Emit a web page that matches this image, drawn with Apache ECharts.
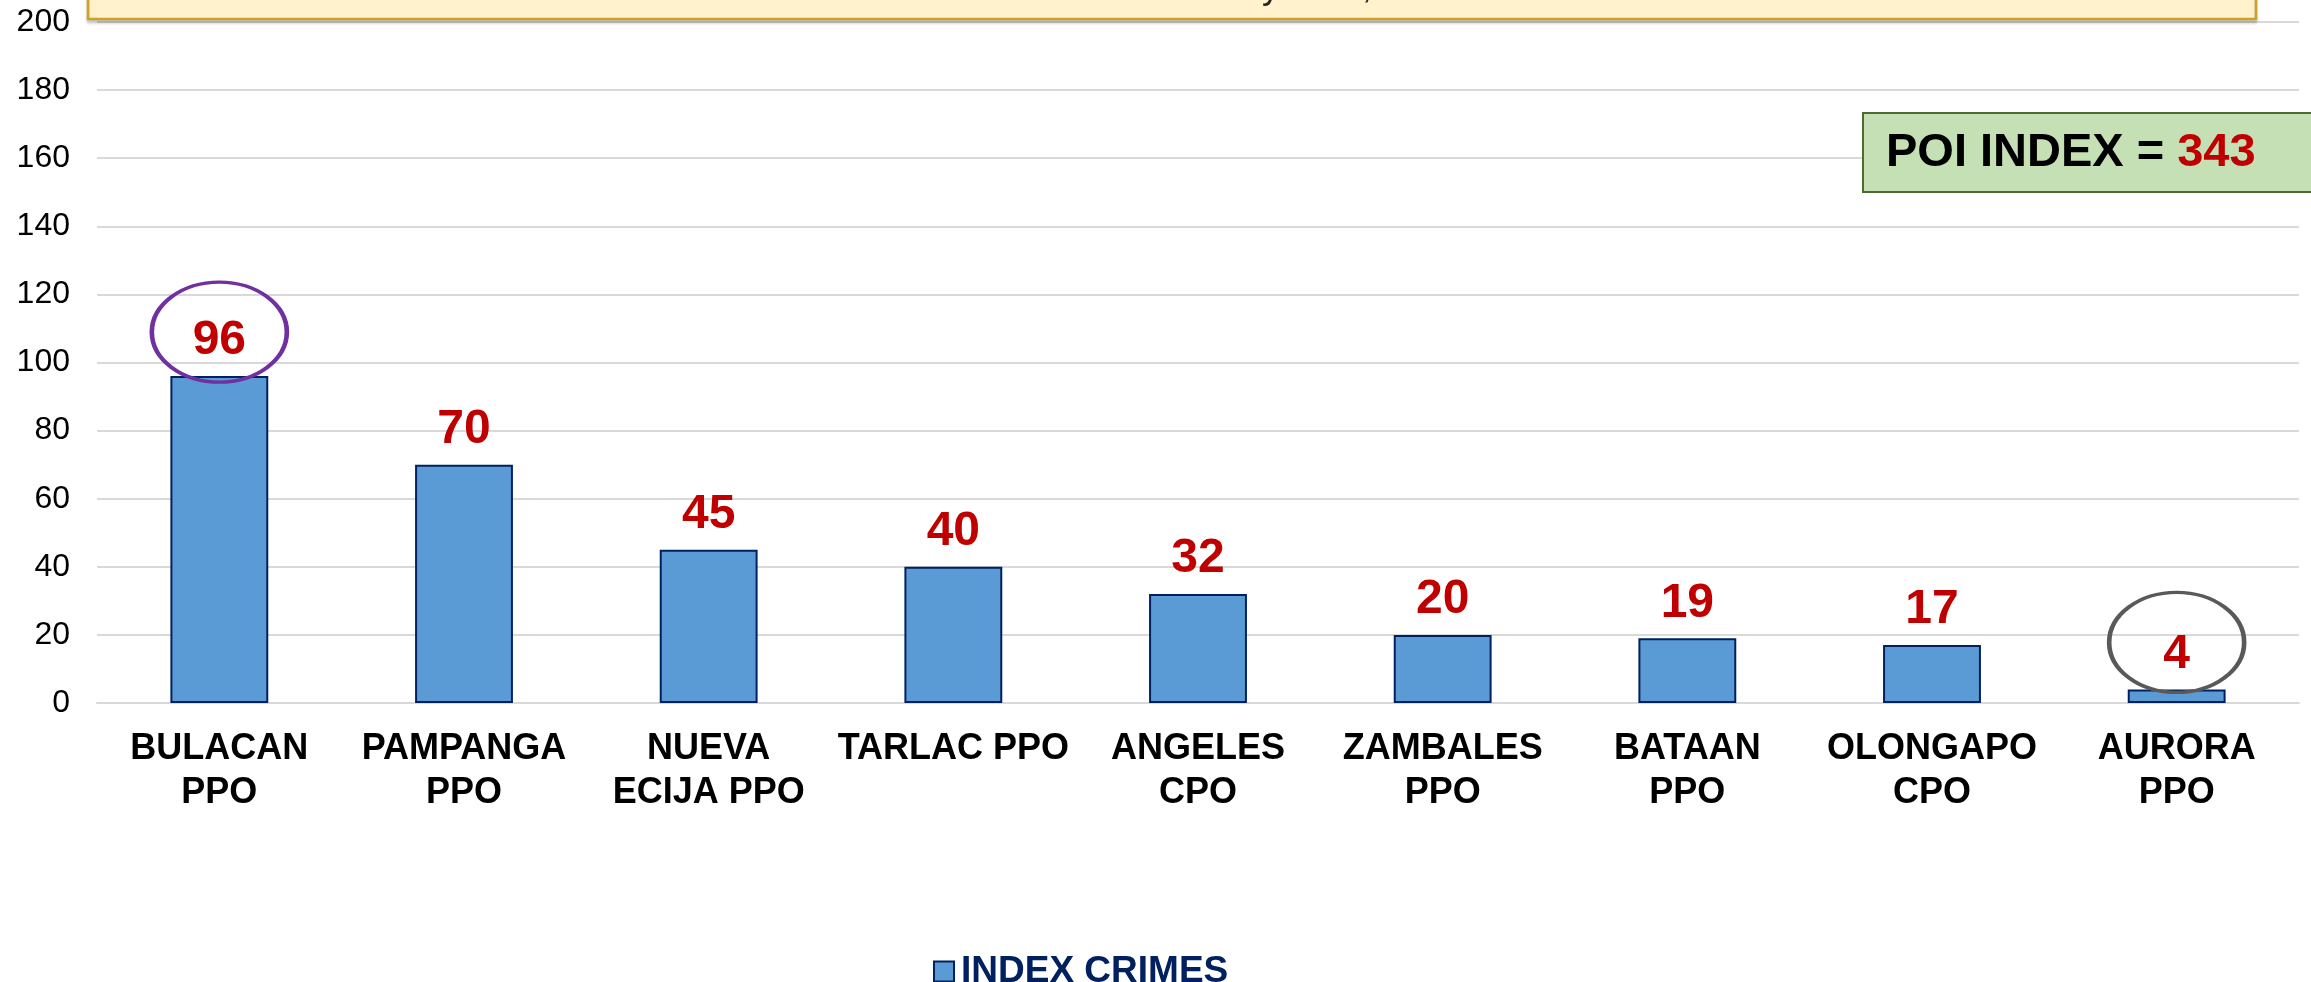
<!DOCTYPE html>
<html>
<head>
<meta charset="utf-8">
<script src="https://cdn.jsdelivr.net/npm/echarts@6/dist/echarts.min.js"></script>
<style>
html,body{margin:0;padding:0;background:#fff;}
#chart{width:2311px;height:982px;}
</style>
</head>
<body>
<div id="chart"></div>
<script>
// ---- data ----
var categories = ['BULACAN\nPPO', 'PAMPANGA\nPPO', 'NUEVA\nECIJA PPO', 'TARLAC PPO', 'ANGELES\nCPO', 'ZAMBALES\nPPO', 'BATAAN\nPPO', 'OLONGAPO\nCPO', 'AURORA\nPPO'];
var indexCrimes = [96, 70, 45, 40, 32, 20, 19, 17, 4];
var seriesName = 'INDEX CRIMES';
var yTicks = { min: 0, max: 200, interval: 20 };
var headerText = 'Covered Period: January 1-31, 2019';
var poiLabel = 'POI INDEX = ';
var poiValue = indexCrimes.reduce(function (a, b) { return a + b; }, 0);
var highlighted = [ { index: 0, color: '#7030A0', offset: -44 }, { index: 8, color: '#595959', offset: -47 } ];

var FONT = "'Liberation Sans', Arial, sans-serif";
var ellipsePath = 'path://M0 50C0 22.39 22.39 0 50 0C77.61 0 100 22.39 100 50C100 77.61 77.61 100 50 100C22.39 100 0 77.61 0 50Z';

var chart = echarts.init(document.getElementById('chart'), null, { renderer: 'canvas' });

var option = {
  animation: false,
  backgroundColor: '#ffffff',
  textStyle: { fontFamily: FONT },
  grid: { left: 97, right: 12, top: 22, bottom: 279, containLabel: false },
  xAxis: {
    type: 'category',
    data: categories,
    axisLine: { show: true, lineStyle: { color: '#D9D9D9', width: 2 } },
    axisTick: { show: false },
    axisLabel: {
      interval: 0, margin: 24, color: '#000000', fontSize: 36, fontWeight: 'bold',
      lineHeight: 44, fontFamily: FONT, align: 'center'
    },
    splitLine: { show: false }
  },
  yAxis: {
    type: 'value',
    min: yTicks.min, max: yTicks.max, interval: yTicks.interval,
    axisLine: { show: false },
    axisTick: { show: false },
    axisLabel: { margin: 27, color: '#000000', fontSize: 32, fontFamily: FONT },
    splitLine: { show: true, lineStyle: { color: '#D9D9D9', width: 2 } }
  },
  legend: {
    show: true,
    left: 928, top: 948,
    itemWidth: 20, itemHeight: 20,
    icon: 'rect',
    textStyle: { color: '#002060', fontSize: 37, fontWeight: 'bold', fontFamily: FONT, padding: [0, 0, 0, 2] },
    data: [seriesName]
  },
  series: [{
    name: seriesName,
    type: 'bar',
    data: indexCrimes,
    barCategoryGap: '60%',
    itemStyle: { color: '#5B9BD5', borderColor: '#002060', borderWidth: 2 },
    label: {
      show: true, position: 'top', distance: 11,
      color: '#C00000', fontSize: 48, fontWeight: 'bold', fontFamily: FONT
    },
    emphasis: { disabled: true },
    markPoint: {
      silent: true,
      animation: false,
      label: { show: false },
      data: highlighted.map(function (h) {
        return {
          coord: [h.index, indexCrimes[h.index]],
          symbol: ellipsePath,
          symbolSize: [135, 100],
          symbolKeepAspect: false,
          symbolOffset: [0, h.offset],
          itemStyle: { color: 'rgba(0,0,0,0)', borderColor: h.color, borderWidth: 4 },
          label: { show: false }
        };
      })
    }
  }],
  graphic: [
    {
      type: 'rect', z: 100,
      shape: { x: 88, y: -40, width: 2168, height: 59 },
      style: { fill: '#FFF2CC', stroke: '#C9A227', lineWidth: 2.5,
               shadowColor: 'rgba(0,0,0,0.18)', shadowBlur: 3, shadowOffsetY: 3 }
    },
    {
      type: 'text', z: 101,
      x: 1172, y: -12,
      style: { text: headerText, fill: '#262626', font: '36px ' + FONT, align: 'center', verticalAlign: 'middle' }
    },
    {
      type: 'rect', z: 100,
      shape: { x: 1863, y: 113, width: 460, height: 79 },
      style: { fill: '#C5E0B4', stroke: '#4F6A2E', lineWidth: 2 }
    },
    {
      type: 'text', z: 101,
      x: 1886, y: 153,
      style: {
        text: '{a|' + poiLabel + '}{b|' + poiValue + '}',
        verticalAlign: 'middle', align: 'left',
        rich: {
          a: { fill: '#000000', fontSize: 47, fontWeight: 'bold', fontFamily: FONT },
          b: { fill: '#C00000', fontSize: 47, fontWeight: 'bold', fontFamily: FONT }
        }
      }
    }
  ]
};

chart.setOption(option);
</script>
</body>
</html>
